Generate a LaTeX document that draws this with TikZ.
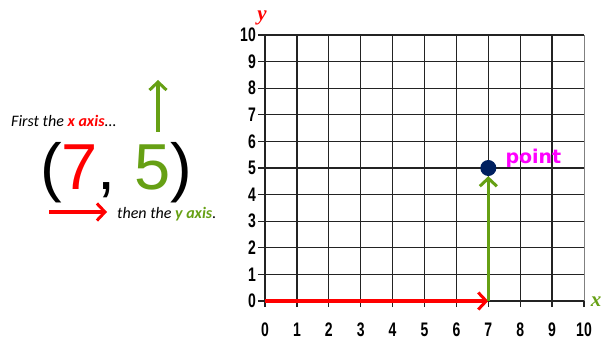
\documentclass[tikz,border=0pt]{standalone}
\usepackage{fontspec}
\usepackage{graphicx}
\setmainfont{Liberation Sans}
\newfontfamily\notefont{Carlito}
\newfontfamily\axfont{Liberation Serif}
\newfontfamily\ptfont{DejaVu Sans}
\usetikzlibrary{arrows.meta,positioning}
\definecolor{axred}{RGB}{255,0,0}
\definecolor{axgreen}{RGB}{102,160,20}
\definecolor{dotnavy}{RGB}{0,32,96}
\definecolor{ptmagenta}{RGB}{255,0,255}
\definecolor{gridgrey}{RGB}{35,35,35}
\tikzset{
  gridline/.style = {draw=gridgrey, line width=1.3pt},
  axisline/.style = {draw=gridgrey, line width=1.8pt},
  frameline/.style= {draw=gray, line width=0.8pt},
  ticklab/.style  = {font=\fontsize{14}{14}\selectfont\bfseries, inner sep=0pt},
  axlab/.style    = {font=\axfont\fontsize{21}{21}\selectfont\bfseries\itshape, inner sep=0pt},
  note/.style     = {font=\notefont\fontsize{16}{16}\selectfont\itshape, inner sep=0pt},
  pair/.style     = {font=\fontsize{65}{65}\selectfont, inner sep=0pt},
  dot/.style      = {circle, fill=dotnavy, minimum size=16pt, inner sep=0pt},
  ptlab/.style    = {font=\ptfont\fontsize{19}{19}\selectfont\bfseries, text=ptmagenta, inner sep=0pt},
  redarr/.style   = {-{Straight Barb[length=8pt, width=17pt, line width=3pt]}, draw=axred, line width=3.5pt},
  greenarr/.style = {-{Straight Barb[length=8pt, width=17pt, line width=3pt]}, draw=axgreen, line width=3.5pt},
}
\newcommand{\tallnum}[1]{\scalebox{1}[1.4]{#1}}

\begin{document}
\begin{tikzpicture}[x=1pt, y=1pt]
\useasboundingbox (0,0) rectangle (601,343);

% the pair and its notes
\node[note, anchor=base west] (first) at (11,216)
  {First the \textcolor{axred}{\bfseries x axis}...};
\node[pair, anchor=base west] (pair) at (40,154)
  {(\textcolor{axred}{7}, \textcolor{axgreen}{5})};
\node[note, anchor=base west] (then) at (117,125)
  {then the \textcolor{axgreen}{\bfseries y axis}.};

\coordinate (upfoot) at (158,211);
\coordinate (uptip) at (158,263);
\draw[greenarr] (upfoot) -- (uptip);
\coordinate (rfoot) at (49,131);
\coordinate (rtip) at (107,131);
\draw[redarr] (rfoot) -- (rtip);

% grid
\begin{scope}[shift={(265,42)}, x=31.9pt, y=26.6pt]
  \foreach \j in {1,...,10}
    \draw[gridline] (-0.22,\j) -- (10,\j);
  \foreach \i in {1,...,9}
    \draw[gridline] (\i,-0.23) -- (\i,10);
  \draw[gridline] (10,-0.23) -- (10,0);
  \draw[frameline] (10,0) -- (10,10);
  \draw[axisline] (-0.22,0) -- (10,0);
  \draw[axisline] (0,-0.23) -- (0,10);

  \foreach \j in {0,...,10}
    \node[ticklab, anchor=east] (ylab\j) at ([xshift=-9pt]0,\j) {\tallnum{\j}};
  \foreach \i in {0,...,10}
    \node[ticklab, anchor=north] (xlab\i) at ([yshift=-22pt]\i,0) {\tallnum{\i}};

  \node[axlab, text=axred] (ylabel) at ([xshift=-3pt, yshift=17pt]0,10) {y};
  \node[axlab, text=axgreen] (xlabel) at ([xshift=12pt, yshift=-1pt]10,0) {x};

  % path to the point
  \coordinate (origin) at (0,0);
  \coordinate (xfoot) at (7,0);
  \node[dot] (pt) at (7,5) {};
  \node[ptlab, anchor=west] (ptname) at ([xshift=17pt, yshift=10pt]7,5) {point};
  \draw[redarr] (origin) -- (xfoot);
  \draw[greenarr] (xfoot) -- (pt.south);
\end{scope}
\end{tikzpicture}
\end{document}
